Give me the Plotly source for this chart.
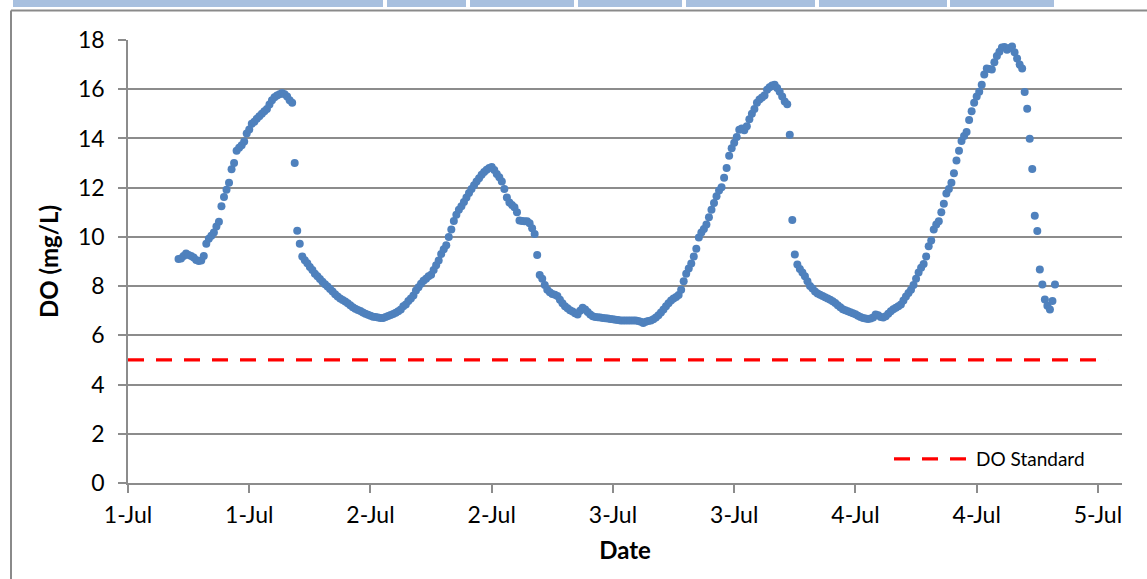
import pandas as pd
import plotly.graph_objects as go

# ---------------- data ----------------
series_start = "2013-07-01 05:00"   # first logged reading, 15-minute interval
interval = "15min"

do_values = [
    9.10, 9.12, 9.22, 9.32,
    9.26, 9.22, 9.16, 9.06,
    9.02, 9.04, 9.22, 9.72,
    9.92, 10.05, 10.18, 10.42,
    10.62, 11.25, 11.62, 11.92,
    12.20, 12.75, 13.00, 13.50,
    13.62, 13.72, 13.88, 14.20,
    14.36, 14.60, 14.68, 14.80,
    14.90, 15.00, 15.10, 15.20,
    15.38, 15.55, 15.67, 15.74,
    15.80, 15.85, 15.80, 15.70,
    15.55, 15.45, 13.00, 10.25,
    9.72, 9.20, 9.05, 8.93,
    8.78, 8.65, 8.50, 8.40,
    8.29, 8.18, 8.08, 7.98,
    7.88, 7.78, 7.67, 7.58,
    7.50, 7.44, 7.37, 7.30,
    7.22, 7.14, 7.08, 7.03,
    6.99, 6.93, 6.88, 6.84,
    6.80, 6.76, 6.74, 6.72,
    6.70, 6.70, 6.74, 6.79,
    6.83, 6.87, 6.92, 6.98,
    7.05, 7.18, 7.25, 7.40,
    7.50, 7.62, 7.82, 7.95,
    8.10, 8.22, 8.30, 8.40,
    8.46, 8.65, 8.85, 9.04,
    9.30, 9.50, 9.66, 10.00,
    10.30, 10.65, 10.90, 11.10,
    11.25, 11.42, 11.60, 11.78,
    11.95, 12.10, 12.25, 12.38,
    12.52, 12.64, 12.73, 12.80,
    12.84, 12.72, 12.56, 12.42,
    12.25, 11.95, 11.60, 11.40,
    11.30, 11.20, 11.00, 10.67,
    10.65, 10.64, 10.64, 10.55,
    10.35, 10.12, 9.26, 8.45,
    8.30, 8.05, 7.85, 7.75,
    7.68, 7.65, 7.60, 7.45,
    7.30, 7.18, 7.10, 7.02,
    6.97, 6.90, 6.85, 7.00,
    7.12, 7.05, 6.95, 6.85,
    6.78, 6.75, 6.73, 6.72,
    6.70, 6.69, 6.68, 6.66,
    6.65, 6.63, 6.62, 6.60,
    6.60, 6.60, 6.60, 6.60,
    6.60, 6.60, 6.58, 6.55,
    6.50, 6.55, 6.58, 6.60,
    6.65, 6.72, 6.82, 6.93,
    7.05, 7.18, 7.30, 7.42,
    7.50, 7.56, 7.64, 7.85,
    8.20, 8.50, 8.72, 8.92,
    9.20, 9.52, 9.98, 10.18,
    10.32, 10.50, 10.80, 11.10,
    11.38, 11.65, 11.88, 12.02,
    12.40, 12.80, 13.30, 13.60,
    13.82, 14.06, 14.35, 14.40,
    14.33, 14.50, 14.78, 15.00,
    15.20, 15.45, 15.58, 15.66,
    15.75, 15.98, 16.08, 16.15,
    16.18, 16.05, 15.90, 15.70,
    15.50, 15.39, 14.15, 10.69,
    9.28, 8.88, 8.70, 8.55,
    8.40, 8.20, 8.00, 7.90,
    7.78, 7.70, 7.65, 7.60,
    7.55, 7.50, 7.45, 7.38,
    7.31, 7.22, 7.14, 7.06,
    7.02, 6.98, 6.94, 6.90,
    6.86, 6.80, 6.74, 6.70,
    6.68, 6.66, 6.68, 6.72,
    6.85, 6.82, 6.75, 6.72,
    6.78, 6.88, 6.98, 7.06,
    7.12, 7.18, 7.25, 7.42,
    7.58, 7.72, 7.85, 8.05,
    8.30, 8.55, 8.75, 8.90,
    9.20, 9.62, 9.85, 10.30,
    10.50, 10.64, 11.00, 11.35,
    11.76, 11.95, 12.20, 12.59,
    13.10, 13.50, 13.90, 14.10,
    14.26, 14.75, 15.10, 15.45,
    15.70, 15.90, 16.18, 16.60,
    16.84, 16.82, 16.80, 17.10,
    17.35, 17.52, 17.70, 17.72,
    17.60, 17.68, 17.74, 17.50,
    17.25, 17.00, 16.84, 15.89,
    15.21, 13.99, 12.76, 10.86,
    10.24, 8.68, 8.07, 7.46,
    7.20, 7.05, 7.39, 8.07,
]

std_dates = ["2013-07-01 00:00", "2013-07-05 01:00"]
std_values = [5, 5]
std_name = "DO Standard"

x_range = ["2013-07-01 00:00", "2013-07-05 02:23"]
x_tick0 = "2013-07-01 00:00"
x_dtick_ms = 12 * 3600 * 1000
y_range = [0, 18]
y_dtick = 2

x_title = "Date"
y_title = "DO (mg/L)"

times = pd.date_range(series_start, periods=len(do_values), freq=interval)

# ---------------- figure ----------------
FONT = "Lato, Open Sans, sans-serif"
GRID = "#8c8c8c"

fig = go.Figure()
fig.add_trace(go.Scatter(
    x=times, y=do_values, mode="markers", name="DO",
    marker=dict(color="#4f81bd", size=8, line=dict(width=0)),
    showlegend=False,
))
fig.add_trace(go.Scatter(
    x=std_dates, y=std_values, mode="lines", name=std_name,
    line=dict(color="#ff0000", width=3.3, dash="16px,12px"),
))

W, H = 1147, 579
L, R, T, B = 128, 25, 40, 96
PW, PH = W - L - R, H - T - B


def px_x(px):
    return (px - L) / PW


def px_y(py):
    return (H - B - py) / PH


shapes = []
# outer chart border (left and top)
border = dict(color="#8a8a8a", width=2)
shapes.append(dict(type="line", xref="paper", yref="paper",
                   x0=px_x(11), x1=px_x(11), y0=px_y(10.5), y1=px_y(600), line=border))
shapes.append(dict(type="line", xref="paper", yref="paper",
                   x0=px_x(11), x1=px_x(1160), y0=px_y(10.5), y1=px_y(10.5), line=border))
# light blue header cells above the chart
for a, b in [(13, 383), (387, 466), (470, 574), (578, 682), (686, 815), (819, 947), (950, 1054)]:
    shapes.append(dict(type="rect", xref="paper", yref="paper",
                       x0=px_x(a), x1=px_x(b), y0=px_y(7), y1=px_y(-2),
                       fillcolor="#a8c0df", line=dict(width=0), layer="above"))

fig.update_layout(
    width=W, height=H,
    margin=dict(l=L, r=R, t=T, b=B, autoexpand=False),
    paper_bgcolor="white", plot_bgcolor="white",
    font=dict(family=FONT, color="black"),
    shapes=shapes,
    legend=dict(
        x=px_x(889), y=px_y(459), xanchor="left", yanchor="middle",
        bgcolor="rgba(0,0,0,0)", font=dict(family=FONT, size=19, color="black"),
        itemwidth=77,
    ),
    xaxis=dict(
        type="date", range=x_range, tick0=x_tick0, dtick=x_dtick_ms,
        tickformat="%-d-%b", showgrid=False, zeroline=False,
        showline=True, linecolor=GRID, linewidth=1.5,
        ticks="outside", ticklen=8, tickcolor=GRID, tickwidth=1.5,
        tickfont=dict(family=FONT, size=23), ticklabelstandoff=3,
        title=dict(text=x_title, font=dict(family=FONT, size=24, weight="bold"), standoff=15),
    ),
    yaxis=dict(
        range=y_range, dtick=y_dtick, showgrid=True, gridcolor=GRID, gridwidth=1.5,
        zeroline=False, showline=True, linecolor=GRID, linewidth=1.5,
        ticks="outside", ticklen=8, tickcolor=GRID, tickwidth=1.5,
        tickfont=dict(family=FONT, size=23), ticklabelstandoff=9,
        title=dict(text=y_title, font=dict(family=FONT, size=24, weight="bold"), standoff=13),
    ),
)

fig.write_html("out.html", config={"displayModeBar": False},
               post_script="document.body.style.margin='0px';")
